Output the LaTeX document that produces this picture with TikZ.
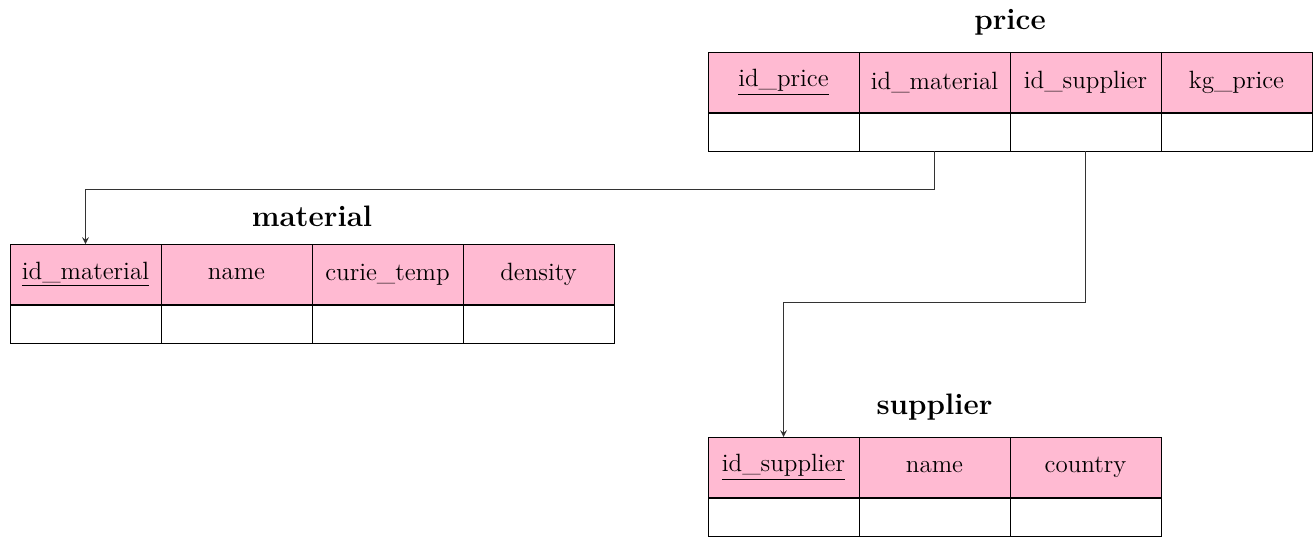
\documentclass[tikz,border=0pt]{standalone}
\usepackage{fontspec}
\usetikzlibrary{positioning,arrows}
\definecolor{keypink}{RGB}{255,186,210}
\tikzset{every node/.style={inner sep=0pt, outer sep=0pt},
  hcell/.style={draw, fill=keypink, anchor=north west, minimum width=75.5pt, minimum height=30.5pt, font=\fontsize{12.5}{14}\selectfont},
  dcell/.style={draw, anchor=north west, minimum width=75.5pt, minimum height=19pt},
  tname/.style={font=\bfseries\fontsize{14.8}{17}\selectfont},
  link/.style={draw=black!80, line width=0.5pt, -stealth}}

\begin{document}
\begin{tikzpicture}[x=0.5pt,y=-0.5pt,line width=0.5pt]
     \useasboundingbox (0,0) rectangle (1316,537);
     % price
     \foreach \c [count=\i] in {{\underline{id\_price}},id\_material,id\_supplier,kg\_price} {
      \node[hcell] (price-h\i) at ({708+151*(\i-1)},52) {\c};
      \node[dcell] (price-d\i) at ({708+151*(\i-1)},113) {};
     }
     \draw[line width=1pt] (price-h1.south west) -- (price-h4.south east);
     \node[tname, above=8.5pt of price-h2.north east] (price) {price};
     % material
     \foreach \c [count=\i] in {{\underline{id\_material}},name,curie\_temp,density} {
      \node[hcell] (material-h\i) at ({10+151*(\i-1)},244) {\c};
      \node[dcell] (material-d\i) at ({10+151*(\i-1)},305) {};
     }
     \draw[line width=1pt] (material-h1.south west) -- (material-h4.south east);
     \node[tname, above=8.5pt of material-h2.north east] (material) {material};
     % supplier
     \foreach \c [count=\i] in {{\underline{id\_supplier}},name,country} {
      \node[hcell] (supplier-h\i) at ({708+151*(\i-1)},437) {\c};
      \node[dcell] (supplier-d\i) at ({708+151*(\i-1)},498) {};
     }
     \draw[line width=1pt] (supplier-h1.south west) -- (supplier-h3.south east);
     \node[tname, above=8.5pt of supplier-h2.north] (supplier) {supplier};
     % keys
     \draw[link] (price-d2.south) -- ++(0,38) -| (material-h1.north);
     \draw[link] (price-d3.south) -- ++(0,151) -| (supplier-h1.north);
    \end{tikzpicture}
\end{document}
